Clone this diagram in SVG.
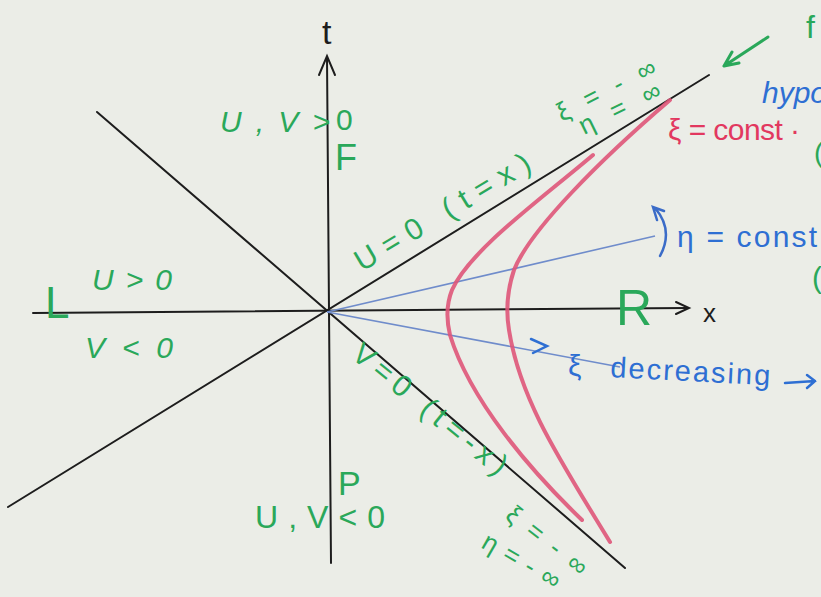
<svg xmlns="http://www.w3.org/2000/svg" width="821" height="597" viewBox="0 0 821 597">
<defs>
<style>
.ax{stroke:#1d1d1d;stroke-width:2;fill:none;stroke-linecap:round}
.hyp{stroke:#df5579;stroke-width:4;fill:none;stroke-linecap:round;opacity:0.9}
.bl{stroke:#6f8ccb;stroke-width:1.6;fill:none}
.g{fill:#2aa85a;font-family:"Liberation Sans",Arial,sans-serif}
.b{fill:#2e6fd3;font-family:"Liberation Sans",Arial,sans-serif}
.r{fill:#e2385f;font-family:"Liberation Sans",Arial,sans-serif}
.k{fill:#1d1d1d;font-family:"Liberation Sans",Arial,sans-serif}
</style>
</defs>
<rect width="821" height="597" fill="#ebede7"/>
<g id="connectors">
<line class="ax" x1="33" y1="313" x2="688" y2="308"/>
<path class="ax" d="M676 302 L689 308 L676 314" stroke-width="2.5"/>
<line class="ax" x1="331" y1="563" x2="327" y2="58"/>
<path class="ax" d="M319 75 L327 56 L335 75" stroke-width="3"/>
<line class="ax" x1="8" y1="507" x2="709" y2="75" stroke-width="1.8"/>
<line class="ax" x1="97" y1="112" x2="625" y2="568" stroke-width="1.8"/>
<line class="bl" x1="327" y1="312" x2="655" y2="236"/>
<line class="bl" x1="327" y1="312" x2="620" y2="367"/>
<path d="M531 339 L547 346 L533 353" stroke="#2e6fd3" stroke-width="2.5" fill="none" stroke-linecap="round"/>
<path d="M664 211 L653 207 L657 220 M655 208 Q674 230 660 256" stroke="#3b6cc8" stroke-width="2.5" fill="none" stroke-linecap="round"/>
<path class="hyp" d="M593 155 C540 200 470 250 452 290 Q444 310 450 335 C470 400 530 470 582 520"/>
<path class="hyp" d="M670 100 C600 160 530 230 514 270 Q504 300 509 330 C520 400 560 460 610 542"/>
<path d="M768 37 L724 66 M724 66 L732 52 M724 66 L739 63" stroke="#2aa85a" stroke-width="3" fill="none" stroke-linecap="round"/>
</g>
<g id="labels">
<text class="k" x="322" y="44" font-size="34">t</text>
<text class="k" x="703" y="322" font-size="26">x</text>
<text class="g" x="220" y="132" font-size="30" font-style="italic" textLength="110" lengthAdjust="spacing">U,V&gt;</text>
<text class="g" x="336" y="130" font-size="30">0</text>
<text class="g" x="335" y="170" font-size="36">F</text>
<text class="g" x="45" y="318" font-size="44">L</text>
<text class="g" x="92" y="290" font-size="30" font-style="italic" textLength="80" lengthAdjust="spacing">U&gt;0</text>
<text class="g" x="85" y="358" font-size="30" font-style="italic" textLength="88" lengthAdjust="spacing">V&lt;0</text>
<text class="g" x="616" y="325" font-size="50">R</text>
<text class="g" x="338" y="495" font-size="34">P</text>
<text class="g" x="255" y="528" font-size="32" textLength="130" lengthAdjust="spacing">U,V&lt;0</text>
<text class="g" font-size="30" transform="translate(362,272) rotate(-31)" textLength="200" lengthAdjust="spacing">U=0 (t=x)</text>
<text class="g" font-size="30" transform="translate(350,357) rotate(39)" textLength="190" lengthAdjust="spacing">V=0 (t=-x)</text>
<text class="g" font-size="26" transform="translate(504,518) rotate(38)" textLength="96" lengthAdjust="spacing">ξ=-∞</text>
<text class="g" font-size="26" transform="translate(480,547) rotate(30)" textLength="86" lengthAdjust="spacing">η=-∞</text>
<text class="g" font-size="26" transform="translate(562,122) rotate(-27)" textLength="108" lengthAdjust="spacing">ξ=-∞</text>
<text class="g" font-size="26" transform="translate(584,135) rotate(-26)" textLength="88" lengthAdjust="spacing">η=∞</text>
<text class="r" x="668" y="140" font-size="30" textLength="132" lengthAdjust="spacing">ξ = const ·</text>
<text class="b" x="762" y="103" font-size="30" font-style="italic">hypo</text>
<text class="g" x="806" y="38" font-size="32">f</text>
<text class="g" x="814" y="162" font-size="28">(</text>
<text class="g" x="812" y="288" font-size="30">(</text>
<text class="b" x="677" y="247" font-size="30" textLength="140" lengthAdjust="spacing">η = const</text>
<text class="b" x="568" y="376" font-size="30">ξ</text>
<text class="b" font-size="29" transform="translate(610,377) rotate(3)" textLength="160" lengthAdjust="spacing">decreasing</text>
<path d="M785 383 L815 381 M807 375 L815 381 L807 388" stroke="#2e6fd3" stroke-width="2.5" fill="none" stroke-linecap="round"/>
</g>
</svg>
